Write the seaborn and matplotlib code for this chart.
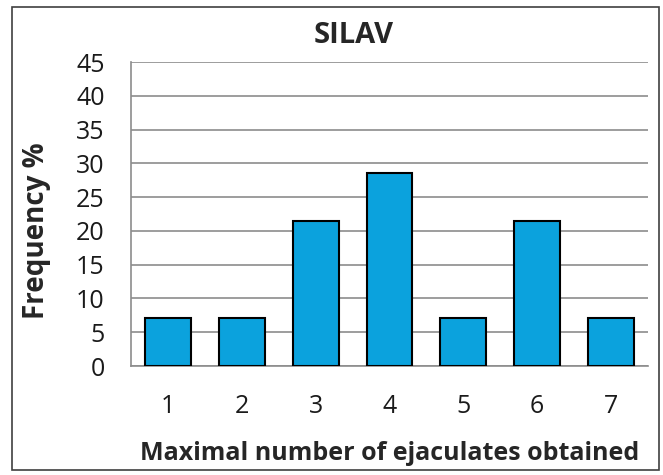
import matplotlib
matplotlib.use("Agg")
import matplotlib.pyplot as plt
import seaborn as sns
import pandas as pd
from matplotlib.patches import Rectangle

categories = ["1", "2", "3", "4", "5", "6", "7"]
frequency = [7.14, 7.14, 21.43, 28.57, 7.14, 21.43, 7.14]
yticks = [0, 5, 10, 15, 20, 25, 30, 35, 40, 45]

df = pd.DataFrame({"cat": categories, "freq": frequency})

sns.set_theme(style="white")
plt.rcParams["font.family"] = ["Open Sans", "DejaVu Sans"]

W, H = 663, 475
fig = plt.figure(figsize=(W/100, H/100), dpi=100)
L, R, T, B = 131, 648, 62, 366
ax = fig.add_axes([L/W, 1-B/H, (R-L)/W, (B-T)/H])

sns.barplot(data=df, x="cat", y="freq", ax=ax, color="#0ba2dd", saturation=1,
            width=0.62, edgecolor="black", linewidth=1.5, zorder=3)

ax.set_ylim(0, 45)
ax.set_xlim(-0.5, 6.5)
ax.set_yticks(yticks)
ax.yaxis.grid(True, color="#8c8c8c", linewidth=1.2, zorder=0)
ax.set_axisbelow(True)
for s in ["top", "right"]:
    ax.spines[s].set_visible(False)
for s in ["left", "bottom"]:
    ax.spines[s].set_color("#8c8c8c")
    ax.spines[s].set_linewidth(1.2)
ax.tick_params(axis="y", labelsize=18, pad=19, length=0, colors="#1a1a1a")
ax.tick_params(axis="x", labelsize=18, pad=20, length=0, colors="#1a1a1a")
ax.set_xlabel("Maximal number of ejaculates obtained", fontsize=18, fontweight="bold", va="center")
ax.xaxis.set_label_coords(0.5, (B-454)/(B-T))
ax.set_ylabel("Frequency %", fontsize=20, fontweight="bold", va="center")
ax.yaxis.set_label_coords((37-L)/(R-L), (B-231)/(B-T))
ax.set_title("SILAV", fontsize=21, fontweight="bold", x=(354-L)/(R-L), pad=14)

fig.patches.append(Rectangle((12/W, 1-470/H), (659-12)/W, (470-7)/H,
                             transform=fig.transFigure, fill=False,
                             edgecolor="#404040", linewidth=1.2))

fig.savefig("out.png", dpi=100)
